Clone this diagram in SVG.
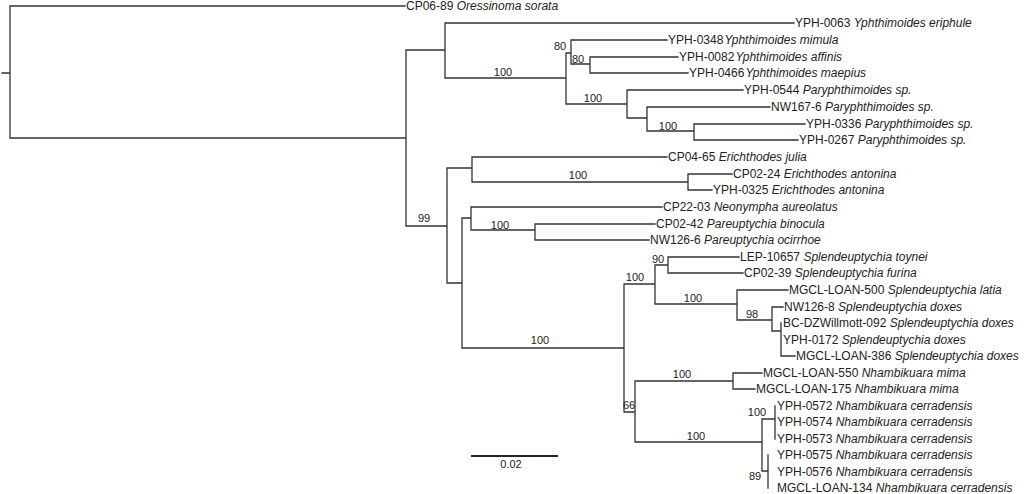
<svg xmlns="http://www.w3.org/2000/svg" width="1024" height="494" viewBox="0 0 1024 494">
<style>
.e{fill:none;stroke:#333;stroke-width:1.3;stroke-linecap:square}
.t{font-family:"Liberation Sans",Arial,sans-serif;font-size:12px;fill:#222}
.t tspan.s{font-style:italic}
.b{font-family:"Liberation Sans",Arial,sans-serif;font-size:11px;fill:#222;text-anchor:middle}
</style>
<rect width="1024" height="494" fill="#fff"/>
<g id="connectors">
<path class="e" d="M2,73H10M10,6V138M10,6H405M10,138H406
M406,50V226M406,50H445M406,226H447
M445,23V78M445,23H794M445,78H566
M566,53V104M566,53H571M566,104H627
M571,40V64M571,40H667M571,64H590
M590,57V73M590,57H678M590,73H688
M627,90V118M627,90H743M627,118H647
M647,107V131M647,107H770M647,131H694
M694,124V140M694,124H805M694,140H798
M447,168V283M447,168H472M447,283H462
M472,157V182M472,157H667M472,182H688
M688,174V190M688,174H732M688,190H712
M462,218V348M462,218H471M462,348H624
M471,207V230M471,207H662M471,230H535
M535,224V240M535,224H655M535,240H649
M624,284V412M624,284H655M624,412H635
M655,265V304M655,265H668M655,304H737
M668,257V273M668,257H739M668,273H743
M737,290V320M737,290H788M737,320H772
M772,307V331M772,307H783M772,331H781
M781,323V356M781,356H795
M635,381V442M635,381H733M635,442H762
M733,373V389M733,373H762M733,389H755
M762,419V471M762,419H775M762,471H768
M775,406V439M768,455V488"/>
<path d="M471,456H558" fill="none" stroke="#222" stroke-width="2"/>
</g>
<g id="supports">
<text class="b" x="560" y="50">80</text>
<text class="b" x="578" y="63">80</text>
<text class="b" x="503" y="76">100</text>
<text class="b" x="593" y="102">100</text>
<text class="b" x="668" y="130">100</text>
<text class="b" x="424" y="222">99</text>
<text class="b" x="578" y="179">100</text>
<text class="b" x="500" y="229">100</text>
<text class="b" x="540" y="344">100</text>
<text class="b" x="635" y="281">100</text>
<text class="b" x="658" y="263">90</text>
<text class="b" x="693" y="302">100</text>
<text class="b" x="752" y="318">98</text>
<text class="b" x="629" y="409">66</text>
<text class="b" x="682" y="378">100</text>
<text class="b" x="696" y="440">100</text>
<text class="b" x="757" y="416">100</text>
<text class="b" x="755" y="480">89</text>
<text class="b" x="511" y="468">0.02</text>
</g>
<g id="leaf1"><text class="t" x="406" y="10">CP06-89 <tspan class="s">Oressinoma sorata</tspan></text></g>
<g id="leaf2"><text class="t" x="795" y="27">YPH-0063 <tspan class="s">Yphthimoides eriphule</tspan></text></g>
<g id="leaf3"><text class="t" x="668" y="44">YPH-0348<tspan class="s" dx="1">Yphthimoides mimula</tspan></text></g>
<g id="leaf4"><text class="t" x="679" y="61">YPH-0082<tspan class="s" dx="1">Yphthimoides affinis</tspan></text></g>
<g id="leaf5"><text class="t" x="689" y="77">YPH-0466<tspan class="s" dx="1">Yphthimoides maepius</tspan></text></g>
<g id="leaf6"><text class="t" x="744" y="94">YPH-0544 <tspan class="s">Paryphthimoides sp.</tspan></text></g>
<g id="leaf7"><text class="t" x="771" y="111">NW167-6 <tspan class="s">Paryphthimoides sp.</tspan></text></g>
<g id="leaf8"><text class="t" x="806" y="128">YPH-0336 <tspan class="s">Paryphthimoides sp.</tspan></text></g>
<g id="leaf9"><text class="t" x="799" y="144">YPH-0267 <tspan class="s">Paryphthimoides sp.</tspan></text></g>
<g id="leaf10"><text class="t" x="668" y="161">CP04-65 <tspan class="s">Erichthodes julia</tspan></text></g>
<g id="leaf11"><text class="t" x="733" y="178">CP02-24 <tspan class="s">Erichthodes antonina</tspan></text></g>
<g id="leaf12"><text class="t" x="713" y="194">YPH-0325 <tspan class="s">Erichthodes antonina</tspan></text></g>
<g id="leaf13"><text class="t" x="663" y="211">CP22-03 <tspan class="s">Neonympha aureolatus</tspan></text></g>
<g id="leaf14"><text class="t" x="656" y="228">CP02-42 <tspan class="s">Pareuptychia binocula</tspan></text></g>
<g id="leaf15"><text class="t" x="650" y="244">NW126-6 <tspan class="s">Pareuptychia ocirrhoe</tspan></text></g>
<g id="leaf16"><text class="t" x="740" y="261">LEP-10657 <tspan class="s">Splendeuptychia toynei</tspan></text></g>
<g id="leaf17"><text class="t" x="744" y="277">CP02-39 <tspan class="s">Splendeuptychia furina</tspan></text></g>
<g id="leaf18"><text class="t" x="789" y="294">MGCL-LOAN-500 <tspan class="s">Splendeuptychia latia</tspan></text></g>
<g id="leaf19"><text class="t" x="784" y="311">NW126-8 <tspan class="s">Splendeuptychia doxes</tspan></text></g>
<g id="leaf20"><text class="t" x="783" y="327">BC-DZWillmott-092 <tspan class="s">Splendeuptychia doxes</tspan></text></g>
<g id="leaf21"><text class="t" x="783" y="344">YPH-0172 <tspan class="s">Splendeuptychia doxes</tspan></text></g>
<g id="leaf22"><text class="t" x="796" y="360">MGCL-LOAN-386 <tspan class="s">Splendeuptychia doxes</tspan></text></g>
<g id="leaf23"><text class="t" x="763" y="377">MGCL-LOAN-550 <tspan class="s">Nhambikuara mima</tspan></text></g>
<g id="leaf24"><text class="t" x="756" y="393">MGCL-LOAN-175 <tspan class="s">Nhambikuara mima</tspan></text></g>
<g id="leaf25"><text class="t" x="777" y="410">YPH-0572 <tspan class="s">Nhambikuara cerradensis</tspan></text></g>
<g id="leaf26"><text class="t" x="777" y="426">YPH-0574 <tspan class="s">Nhambikuara cerradensis</tspan></text></g>
<g id="leaf27"><text class="t" x="777" y="443">YPH-0573 <tspan class="s">Nhambikuara cerradensis</tspan></text></g>
<g id="leaf28"><text class="t" x="777" y="459">YPH-0575 <tspan class="s">Nhambikuara cerradensis</tspan></text></g>
<g id="leaf29"><text class="t" x="777" y="476">YPH-0576 <tspan class="s">Nhambikuara cerradensis</tspan></text></g>
<g id="leaf30"><text class="t" x="777" y="492">MGCL-LOAN-134 <tspan class="s">Nhambikuara cerradensis</tspan></text></g>
</svg>
